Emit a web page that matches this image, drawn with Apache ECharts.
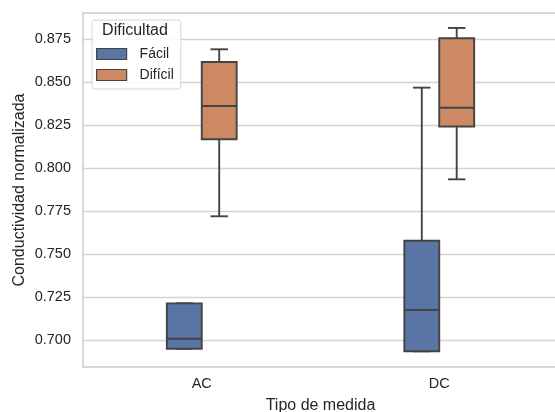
<!DOCTYPE html>
<html>
<head>
<meta charset="utf-8">
<script src="https://cdn.jsdelivr.net/npm/echarts@6/dist/echarts.min.js"></script>
<style>html,body{margin:0;padding:0;background:#fff}#c{width:555px;height:412px}</style>
</head>
<body>
<div id="c"></div>
<script>
// ---- data ----
const categories = ['AC', 'DC'];
// [min, Q1, median, Q3, max]
const facilAC = [0.6951, 0.6951, 0.7009, 0.7215, 0.7215];
const facilDC = [0.6936, 0.6936, 0.7176, 0.7579, 0.8469];
const dificilAC = [0.7721, 0.8169, 0.8362, 0.8618, 0.8692];
const dificilDC = [0.7936, 0.8243, 0.8352, 0.8756, 0.8816];
const yTicks = [0.700, 0.725, 0.750, 0.775, 0.800, 0.825, 0.850, 0.875];
const seriesNames = ['Fácil', 'Difícil'];

// ---- style ----
const FONT = 'Liberation Sans, Arial, sans-serif';
const TEXT = '#262626';
const LINE = '#444444';
const SPINE = '#cccccc';
const COLORS = ['#5875a4', '#cc8963'];
const BOX_RATIO = 0.147;

function toRows(list) {
  return list.map((v, i) => [i].concat(v));
}

function makeRender(sign, color) {
  return function (params, api) {
    const cat = api.value(0);
    const band = api.size([1, 0])[0];
    const w = band * BOX_RATIO;
    const cx = api.coord([cat, api.value(3)])[0] + sign * w / 2;
    const yMin = api.coord([cat, api.value(1)])[1];
    const yQ1 = api.coord([cat, api.value(2)])[1];
    const yMed = api.coord([cat, api.value(3)])[1];
    const yQ3 = api.coord([cat, api.value(4)])[1];
    const yMax = api.coord([cat, api.value(5)])[1];
    const cap = w / 4;
    const ls = { stroke: LINE, lineWidth: 1.9, fill: null };
    return {
      type: 'group',
      children: [
        { type: 'line', shape: { x1: cx, y1: yQ3, x2: cx, y2: yMax }, style: ls },
        { type: 'line', shape: { x1: cx - cap, y1: yMax, x2: cx + cap, y2: yMax }, style: ls },
        { type: 'line', shape: { x1: cx, y1: yQ1, x2: cx, y2: yMin }, style: ls },
        { type: 'line', shape: { x1: cx - cap, y1: yMin, x2: cx + cap, y2: yMin }, style: ls },
        { type: 'rect', shape: { x: cx - w / 2, y: yQ3, width: w, height: yQ1 - yQ3 },
          style: { fill: color, stroke: LINE, lineWidth: 1.9 } },
        { type: 'line', shape: { x1: cx - w / 2, y1: yMed, x2: cx + w / 2, y2: yMed }, style: ls }
      ]
    };
  };
}

const chart = echarts.init(document.getElementById('c'), null, { renderer: 'canvas' });
chart.setOption({
  animation: false,
  backgroundColor: '#ffffff',
  textStyle: { fontFamily: FONT },
  grid: {
    left: 83, top: 13, width: 475, height: 354,
    containLabel: false,
    outerBoundsMode: 'none',
    show: false
  },
  title: {
    text: 'Dificultad',
    left: 135, top: 23, textAlign: 'center', padding: 0,
    textStyle: { fontFamily: FONT, fontSize: 16, fontWeight: 'normal', color: TEXT }
  },
  legend: {
    orient: 'vertical',
    left: 92, top: 20,
    padding: [27, 7, 7, 4],
    itemWidth: 30, itemHeight: 11, itemGap: 7,
    borderColor: '#d6d6d6', borderWidth: 1, borderRadius: 3,
    backgroundColor: 'rgba(255,255,255,0.85)',
    textStyle: { fontFamily: FONT, fontSize: 14, color: TEXT, padding: [0, 0, 0, 8] },
    data: seriesNames.map((n, i) => ({
      name: n, icon: 'rect',
      itemStyle: { color: COLORS[i], borderColor: LINE, borderWidth: 1.2 }
    }))
  },
  xAxis: [
    {
      type: 'category',
      data: categories,
      boundaryGap: true,
      position: 'bottom',
      name: 'Tipo de medida',
      nameLocation: 'middle',
      nameGap: 31,
      nameMoveOverlap: false,
      nameTextStyle: { fontFamily: FONT, fontSize: 16, color: TEXT },
      axisLine: { show: true, lineStyle: { color: SPINE, width: 1.5 } },
      axisTick: { show: false },
      axisLabel: { fontFamily: FONT, fontSize: 14.5, color: TEXT, margin: 9 },
      splitLine: { show: false }
    },
    {
      type: 'category',
      data: categories,
      position: 'top',
      axisLine: { show: true, onZero: false, lineStyle: { color: SPINE, width: 1.5 } },
      axisTick: { show: false },
      axisLabel: { show: false },
      splitLine: { show: false }
    }
  ],
  yAxis: {
    type: 'value',
    min: 0.68448, max: 0.8903,
    name: 'Conductividad normalizada',
    nameLocation: 'middle',
    nameGap: 55,
    nameMoveOverlap: false,
    nameTextStyle: { fontFamily: FONT, fontSize: 16, color: TEXT },
    axisLine: { show: true, onZero: false, lineStyle: { color: SPINE, width: 1.5 } },
    axisTick: { show: false, customValues: yTicks },
    axisLabel: {
      fontFamily: FONT, fontSize: 14.5, color: TEXT, margin: 12,
      customValues: yTicks,
      formatter: v => v.toFixed(3)
    },
    splitLine: { show: true, lineStyle: { color: '#d4d4d4', width: 1.3 } }
  },
  series: [
    {
      name: seriesNames[0], type: 'custom',
      itemStyle: { color: COLORS[0], borderColor: LINE },
      encode: { x: 0, y: [1, 2, 3, 4, 5] },
      renderItem: makeRender(-1, COLORS[0]),
      data: toRows([facilAC, facilDC])
    },
    {
      name: seriesNames[1], type: 'custom',
      itemStyle: { color: COLORS[1], borderColor: LINE },
      encode: { x: 0, y: [1, 2, 3, 4, 5] },
      renderItem: makeRender(1, COLORS[1]),
      data: toRows([dificilAC, dificilDC])
    }
  ]
});
</script>
</body>
</html>
